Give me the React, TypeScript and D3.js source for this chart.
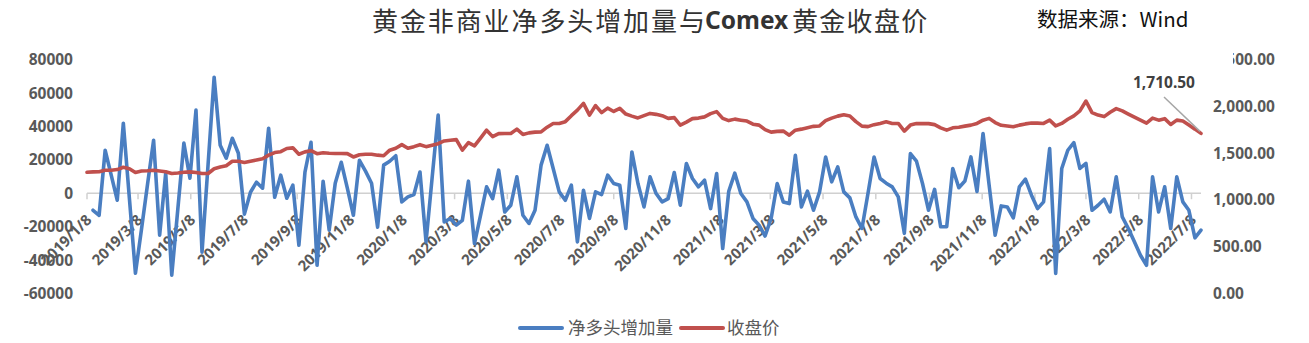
import React from 'react';
import * as d3 from 'd3';

const START_DATE = '2019/01/08';
const END_DATE = '2022/07/19';

const netLongChange: (number | null)[] = [
  null, -10200, -13200, 25700, 10800, -4200, 41900, -3000, -47900, -21500,
  5400, 31700, -25100, 12000, -49000, -9600, 30000, 9000, 49700, -35300,
  17300, 69400, 28700, 21000, 32900, 23900, -12500, 600, 6600, 3000,
  38900, -2400, 10800, -3000, 4800, -31100, 12600, 30500, -43100, 7200,
  -22100, 6000, 18500, 3000, -13200, 19700, 13200, 6000, -20300, 16800,
  19100, 22400, -5200, -2200, -800, 12700, -29100, 9000, 46700, -17200,
  -15100, -19100, -16200, 7200, -30100, -13200, 3800, -3200, 13800, -11200,
  -7200, 9800, -13200, -18100, -10200, 16800, 28700, 14800, 800, -4200,
  4800, -29100, 1800, -15100, 800, -800, 10800, 5800, 4800, -21100,
  24700, 5800, -8200, 9800, -200, -5200, -3200, 12400, -7200, 17800,
  8800, 3800, 7800, -9200, 11800, -33100, 1200, 12000, -200, -5200,
  -15100, -19100, -25600, -15100, 5800, -5200, -6200, 22700, -8200, 1200,
  -10200, 800, 21700, 6800, 15700, 800, -2800, -14200, -21100, 0,
  21700, 8800, 6000, 3800, -2200, -24000, 23700, 19200, 5800, -10200,
  2300, -20100, -20000, 14800, 3300, 7300, 21700, 1000, 35700, 5000,
  -25100, -7600, -8200, -14800, 3800, 8400, -1200, -9200, -5200, 26700,
  -48000, 14800, 25700, 30300, 14800, 17800, -10200, -7200, -3600, -11200,
  9800, -14200, -21100, -29100, -37100, -43100, 9800, -11200, 3800, -21100,
  9800, -5200, -10200, -26700, -22100,
];

const closePrice: number[] = [
  1295, 1299, 1301, 1317, 1317, 1324, 1349, 1333, 1292, 1309,
  1312, 1317, 1309, 1301, 1282, 1288, 1296, 1299, 1293, 1282,
  1282, 1333, 1351, 1365, 1413, 1413, 1400, 1413, 1427, 1440,
  1478, 1506, 1515, 1549, 1556, 1488, 1513, 1526, 1494, 1504,
  1499, 1496, 1496, 1494, 1459, 1483, 1488, 1488, 1478, 1472,
  1531, 1552, 1590, 1552, 1569, 1590, 1569, 1585, 1601, 1630,
  1638, 1644, 1531, 1611, 1577, 1660, 1745, 1676, 1708, 1710,
  1710, 1756, 1699, 1716, 1724, 1727, 1777, 1817, 1817, 1836,
  1900, 1959, 2031, 1906, 2008, 1933, 1981, 1945, 1978, 1917,
  1895, 1876, 1900, 1924, 1914, 1900, 1871, 1879, 1799, 1831,
  1868, 1874, 1887, 1922, 1943, 1871, 1847, 1863, 1852, 1842,
  1809, 1799, 1751, 1724, 1732, 1735, 1692, 1745, 1756, 1772,
  1786, 1790, 1847, 1874, 1895, 1909, 1897, 1836, 1788, 1783,
  1804, 1817, 1834, 1817, 1817, 1735, 1799, 1815, 1817, 1815,
  1804, 1770, 1745, 1770, 1777, 1788, 1799, 1817, 1852, 1871,
  1826, 1797, 1790, 1781, 1799, 1812, 1822, 1820, 1817, 1852,
  1791, 1817, 1861, 1898, 1951, 2056, 1933, 1906, 1890, 1936,
  1975, 1951, 1917, 1884, 1852, 1820, 1874, 1852, 1868, 1806,
  1852, 1842, 1799, 1756, 1710.5,
];

const xTickLabels = [
  '2019/1/8', '2019/3/8', '2019/5/8', '2019/7/8', '2019/9/8', '2019/11/8',
  '2020/1/8', '2020/3/8', '2020/5/8', '2020/7/8', '2020/9/8', '2020/11/8',
  '2021/1/8', '2021/3/8', '2021/5/8', '2021/7/8', '2021/9/8', '2021/11/8',
  '2022/1/8', '2022/3/8', '2022/5/8', '2022/7/8',
];

const leftTicks = [80000, 60000, 40000, 20000, 0, -20000, -40000, -60000];
const rightTicks = [0, 500, 1000, 1500, 2000, 2500];

const TITLE_A = '黄金非商业净多头增加量与';
const TITLE_B = 'Comex';
const TITLE_C = '黄金收盘价';
const SOURCE = '数据来源：Wind';
const SERIES_NAMES = ['净多头增加量', '收盘价'];
const LAST_LABEL = '1,710.50';

const BLUE = '#4A7EC1';
const RED = '#C0504D';
const AXIS_TEXT = '#595959';
const NUM_FONT = '"Noto Sans", "Open Sans", sans-serif';
const CJK_FONT = '"Noto Sans CJK SC", sans-serif';

export default function App() {
  const W = 1309;
  const H = 343;
  const parse = d3.timeParse('%Y/%m/%d');
  const start = parse(START_DATE) as Date;
  const end = parse(END_DATE) as Date;
  const dates = closePrice.map((_, i) => d3.timeDay.offset(start, 7 * i));

  const x = d3.scaleTime().domain([start, end]).range([87, 1201]);
  const yL = d3.scaleLinear().domain([-60000, 80000]).range([293.5, 59.5]);
  const yR = d3.scaleLinear().domain([0, 2500]).range([293.5, 59.5]);

  const blueLine = d3
    .line<number | null>()
    .defined((d) => d !== null)
    .x((_, i) => x(dates[i]))
    .y((d) => yL(d as number));
  const redLine = d3
    .line<number>()
    .x((_, i) => x(dates[i]))
    .y((d) => yR(d));

  const y0 = yL(0);
  const lastI = closePrice.length - 1;
  const lx = x(dates[lastI]);
  const ly = yR(closePrice[lastI]);

  return (
    <svg
      width={W}
      height={H}
      style={{ position: 'absolute', left: 0, top: 0, background: '#fff' }}
    >
      <rect x={0} y={0} width={W} height={H} fill="#fff" />
      {/* title */}
      <text x={372} y={30.5} fontFamily={CJK_FONT} fontSize={26} letterSpacing={1.9} fill="#333">
        {TITLE_A}
      </text>
      <text x={705} y={29} fontFamily={NUM_FONT} fontWeight="bold" fontSize={24.5} fill="#333">
        {TITLE_B}
      </text>
      <text x={792} y={30.5} fontFamily={CJK_FONT} fontSize={26} letterSpacing={1.3} fill="#333">
        {TITLE_C}
      </text>
      <text x={1037} y={27} fontFamily={CJK_FONT} fontSize={20.5} fill="#111">
        {SOURCE}
      </text>

      {/* left axis labels */}
      {leftTicks.map((t) => (
        <text
          key={'l' + t}
          x={73}
          y={yL(t)}
          dy="0.36em"
          textAnchor="end"
          fontFamily={NUM_FONT}
          fontWeight="bold"
          fontSize={15.5}
          fill={AXIS_TEXT}
        >
          {t}
        </text>
      ))}
      {/* right axis labels */}
      {rightTicks.map((t) => (
        <text
          key={'r' + t}
          x={1213}
          y={yR(t)}
          dy="0.36em"
          textAnchor="start"
          fontFamily={NUM_FONT}
          fontWeight="bold"
          fontSize={15.5}
          fill={AXIS_TEXT}
        >
          {d3.format(',.2f')(t)}
        </text>
      ))}
      <rect x={1205} y={48} width={28} height={24} fill="#fff" />

      {/* zero axis */}
      <line x1={87} x2={1201} y1={y0} y2={y0} stroke="#D0D0D0" strokeWidth={1.5} />
      {xTickLabels.map((l) => {
        const tx = x(parse(l) as Date);
        return (
          <g key={l}>
            <line x1={tx} x2={tx} y1={y0} y2={y0 + 6} stroke="#D0D0D0" strokeWidth={1.5} />
            <text
              transform={`translate(${tx + 5.5},${221}) rotate(-45)`}
              textAnchor="end"
              fontFamily={NUM_FONT}
              fontWeight="bold"
              fontSize={15}
              fill={AXIS_TEXT}
            >
              {l}
            </text>
          </g>
        );
      })}

      {/* series */}
      <path
        d={blueLine(netLongChange) || ''}
        fill="none"
        stroke={BLUE}
        strokeWidth={3.6}
        strokeLinejoin="round"
        strokeLinecap="round"
      />
      <path
        d={redLine(closePrice) || ''}
        fill="none"
        stroke={RED}
        strokeWidth={3.6}
        strokeLinejoin="round"
        strokeLinecap="round"
      />

      {/* data label */}
      <line x1={1164} y1={97} x2={lx - 1} y2={ly - 2} stroke="#A6A6A6" strokeWidth={1.5} />
      <text
        x={1133}
        y={88}
        fontFamily={NUM_FONT}
        fontWeight="bold"
        fontSize={15.5}
        fill="#404040"
      >
        {LAST_LABEL}
      </text>

      {/* legend */}
      <line x1={520} x2={562} y1={328} y2={328} stroke={BLUE} strokeWidth={4} strokeLinecap="round" />
      <text x={568} y={334} fontFamily={CJK_FONT} fontSize={17.5} fill={AXIS_TEXT}>
        {SERIES_NAMES[0]}
      </text>
      <line x1={681} x2={723} y1={328} y2={328} stroke={RED} strokeWidth={4} strokeLinecap="round" />
      <text x={727} y={334} fontFamily={CJK_FONT} fontSize={17.5} fill={AXIS_TEXT}>
        {SERIES_NAMES[1]}
      </text>
    </svg>
  );
}
